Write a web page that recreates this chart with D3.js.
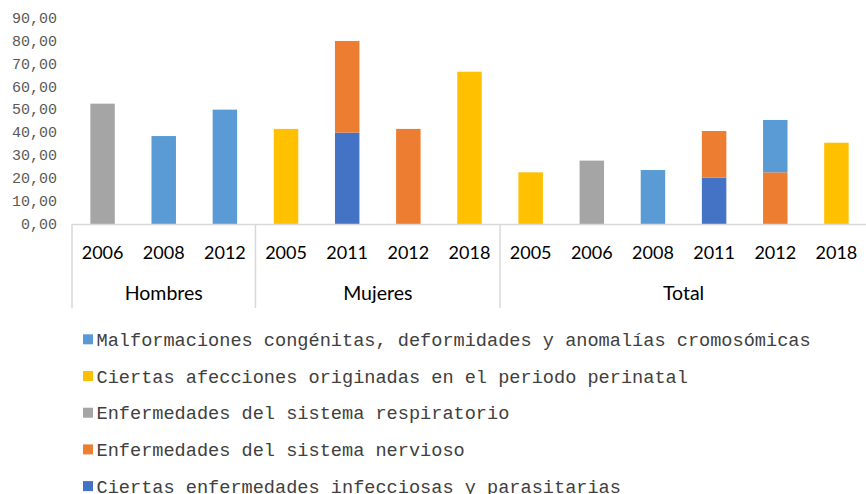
<!DOCTYPE html>
<html>
<head>
<meta charset="utf-8">
<script src="https://cdn.jsdelivr.net/npm/d3@7/dist/d3.min.js"></script>
<style>
  html, body { margin: 0; padding: 0; background: #fff; }
  svg { display: block; }
</style>
</head>
<body>
<svg id="chart" width="866" height="494"></svg>
<script>
'use strict';

// categories: group + year
var groups = ['Hombres', 'Mujeres', 'Total'];
var categoryGroups = ['Hombres', 'Hombres', 'Hombres',
    'Mujeres', 'Mujeres', 'Mujeres', 'Mujeres',
    'Total', 'Total', 'Total', 'Total', 'Total', 'Total'];
var categoryYears = ['2006', '2008', '2012',
    '2005', '2011', '2012', '2018',
    '2005', '2006', '2008', '2011', '2012', '2018'];

// series, in stacking order (bottom first)
var seriesNames = [
    'Ciertas enfermedades infecciosas y parasitarias',
    'Enfermedades del sistema nervioso',
    'Enfermedades del sistema respiratorio',
    'Ciertas afecciones originadas en el periodo perinatal',
    'Malformaciones congénitas, deformidades y anomalías cromosómicas'
];
var infecciosas    = [0, 0, 0, 0, 39.8, 0, 0, 0, 0, 0, 20.2, 0, 0];
var nervioso       = [0, 0, 0, 0, 39.9, 41.4, 0, 0, 0, 0, 20.3, 22.5, 0];
var respiratorio   = [52.4, 0, 0, 0, 0, 0, 0, 0, 27.6, 0, 0, 0, 0];
var perinatal      = [0, 0, 0, 41.4, 0, 0, 66.3, 22.5, 0, 0, 0, 0, 35.4];
var malformaciones = [0, 38.3, 49.8, 0, 0, 0, 0, 0, 0, 23.5, 0, 22.8, 0];

var yTicks = [0, 10, 20, 30, 40, 50, 60, 70, 80, 90];

var seriesColors = ['#4472C4', '#ED7D31', '#A5A5A5', '#FFC000', '#5B9BD5'];

var svg = d3.select('#chart');

var plotLeft = 72,
    plotRight = 867,
    plotTop = 17.3,
    plotBottom = 224;

var keys = categoryYears.map(function(_, i) { return i; });

var x = d3.scaleBand()
    .domain(keys)
    .range([plotLeft, plotRight])
    .paddingInner(0.6)
    .paddingOuter(0.3);

var y = d3.scaleLinear()
    .domain([0, 90])
    .range([plotBottom, plotTop]);

// build rows for d3.stack
var seriesValues = [infecciosas, nervioso, respiratorio, perinatal, malformaciones];
var rows = keys.map(function(i) {
    var r = { i: i };
    seriesValues.forEach(function(vals, s) { r[s] = vals[i]; });
    return r;
});

var stacked = d3.stack()
    .keys(seriesValues.map(function(_, s) { return s; }))(rows);

// y axis labels (no line, no ticks)
var yAxis = d3.axisLeft(y)
    .tickValues(yTicks)
    .tickSize(0)
    .tickPadding(15)
    .tickFormat(function(d) { return d3.format('.2f')(d).replace('.', ','); });

svg.append('g')
    .attr('transform', 'translate(' + plotLeft + ',0)')
    .call(yAxis)
    .call(function(g) { g.select('.domain').remove(); })
    .selectAll('text')
    .attr('font-family', '"Liberation Mono", "Courier New", monospace')
    .attr('font-size', '15px')
    .attr('fill', '#595959');

// bars
svg.append('g')
    .selectAll('g')
    .data(stacked)
    .enter().append('g')
    .attr('fill', function(d) { return seriesColors[d.key]; })
    .selectAll('rect')
    .data(function(d) { return d.filter(function(p) { return p[1] - p[0] > 0; }); })
    .enter().append('rect')
    .attr('x', function(d) { return x(d.data.i); })
    .attr('width', x.bandwidth())
    .attr('y', function(d) { return y(d[1]); })
    .attr('height', function(d) { return y(d[0]) - y(d[1]); });

// category axis baseline
svg.append('line')
    .attr('x1', plotLeft).attr('x2', plotRight)
    .attr('y1', plotBottom + 0.5).attr('y2', plotBottom + 0.5)
    .attr('stroke', '#D9D9D9')
    .attr('stroke-width', 1.5);

// group separators
var groupSpans = groups.map(function(g) {
    var idx = keys.filter(function(i) { return categoryGroups[i] === g; });
    var first = idx[0], last = idx[idx.length - 1];
    return {
        name: g,
        x0: x(first) - x.step() * x.paddingInner() / 2,
        x1: x(last) + x.bandwidth() + x.step() * x.paddingInner() / 2
    };
});
groupSpans[0].x0 = plotLeft;

var sepX = [plotLeft].concat(groupSpans.slice(0, -1).map(function(s) { return s.x1; }));

svg.append('g')
    .selectAll('line')
    .data(sepX)
    .enter().append('line')
    .attr('x1', function(d) { return d; })
    .attr('x2', function(d) { return d; })
    .attr('y1', plotBottom)
    .attr('y2', 308)
    .attr('stroke', '#D9D9D9')
    .attr('stroke-width', 1.5);

var labelFont = 'Lato, "Open Sans", Calibri, sans-serif';

// year labels
svg.append('g')
    .selectAll('text')
    .data(keys)
    .enter().append('text')
    .attr('x', function(i) { return x(i) + x.bandwidth() / 2; })
    .attr('y', 253)
    .attr('dy', '0.35em')
    .attr('text-anchor', 'middle')
    .attr('font-family', labelFont)
    .attr('font-size', '18px')
    .attr('fill', '#000')
    .text(function(i) { return categoryYears[i]; });

// group labels
svg.append('g')
    .selectAll('text')
    .data(groupSpans)
    .enter().append('text')
    .attr('x', function(d) { return (d.x0 + d.x1) / 2; })
    .attr('y', 293.5)
    .attr('dy', '0.35em')
    .attr('text-anchor', 'middle')
    .attr('font-family', labelFont)
    .attr('font-size', '19.5px')
    .attr('fill', '#000')
    .text(function(d) { return d.name; });

// legend (top series first); the last row runs off the bottom like the original
var legendOrder = [4, 3, 2, 1, 0];
var legend = svg.append('g')
    .selectAll('g')
    .data(legendOrder)
    .enter().append('g')
    .attr('transform', function(_, k) { return 'translate(83,' + (339.3 + k * 36.7) + ')'; });

legend.append('rect')
    .attr('x', 0).attr('y', -5)
    .attr('width', 10).attr('height', 10)
    .attr('fill', function(s) { return seriesColors[s]; });

legend.append('text')
    .attr('x', 13.5)
    .attr('dy', '0.35em')
    .attr('font-family', '"Liberation Mono", "Courier New", monospace')
    .attr('font-size', '18.6px')
    .attr('fill', '#404040')
    .text(function(s) { return seriesNames[s]; });
</script>
</body>
</html>
